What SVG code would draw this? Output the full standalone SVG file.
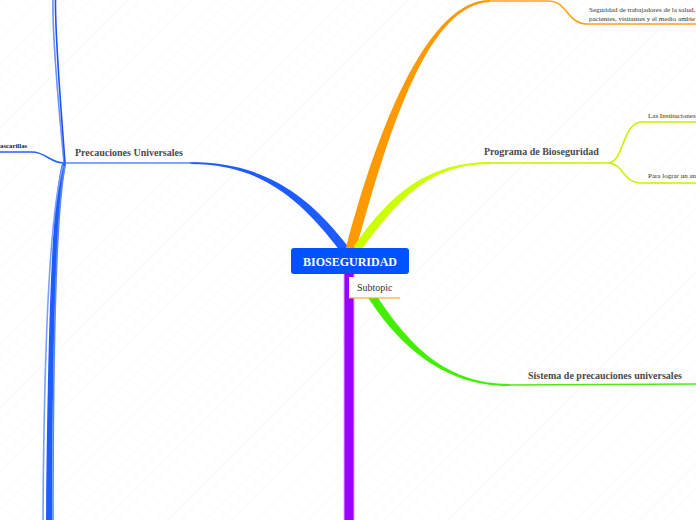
<svg xmlns="http://www.w3.org/2000/svg" width="696" height="520" viewBox="0 0 696 520">
<defs>
<pattern id="stripes" width="9" height="9" patternUnits="userSpaceOnUse" patternTransform="rotate(45)">
<line x1="0" y1="0" x2="0" y2="9" stroke="#f3f3f3" stroke-width="1"/>
</pattern>
<style>
.lbl{font-family:"Liberation Serif",serif;font-weight:bold;font-size:10px;fill:#4a4a4a}
.sm{font-family:"Liberation Serif",serif;font-size:7px;fill:#333}
.smb{font-family:"Liberation Serif",serif;font-weight:bold;font-size:6.8px;fill:#222}
.thin{fill:none;stroke-width:1.6;stroke-linecap:round}
</style>
</defs>
<rect width="696" height="520" fill="#ffffff"/>
<rect width="696" height="520" fill="url(#stripes)"/>
<g id="connectors">
<path d="M 348.6 247.3 C 303.6 187.3 255 162 190 162 L 190 164 C 255 164 296.4 192.7 341.4 252.7 Z" fill="#1f5cff"/>
<path d="M 192 163 L 64 163" class="thin" stroke="#5a86ff" stroke-width="2"/>
<path d="M 64 163 C 60 120 52 40 53 0" class="thin" stroke="#6b94ff" stroke-width="2"/>
<path d="M 65 163 C 62 120 55 40 55.5 0" class="thin" stroke="#1a55ee" stroke-width="1"/>
<path d="M 64 163 C 50 163 46 152 32 152 L 0 152" class="thin" stroke="#2a62ff" stroke-width="1.6"/>
<path d="M 62 164 C 52 200 48 320 46 520 L 52 520 C 53 320 56 210 66 164 Z" fill="#1f5cff"/>
<path d="M 63 166 C 50 210 44 350 43 520" class="thin" stroke="#7aa0ff" stroke-width="1.2"/>
<path d="M 65 166 C 56 210 53 350 53 520" class="thin" stroke="#5a86ff" stroke-width="1"/>
<path d="M 346 247.9 C 380 119 430 0 490 0 L 490 2 C 430 4 391 121 356 250.1 Z" fill="#ff9900"/>
<path d="M 488 1 L 548 1 C 568 1 566 24 588 24 L 696 24" class="thin" stroke="#ffa31a"/>
<path d="M 353.7 246.7 C 391 192 430 162 490 162 L 490 164 C 430 164 399 198 360.3 251.3 Z" fill="#ccff00"/>
<path d="M 488 163 L 608 163 C 624 163 622 122 642 122 L 696 122 M 608 163 C 624 163 622 183 642 183 L 696 183" class="thin" stroke="#ccf000"/>
<path d="M 371.4 287.8 C 404 338 440 384 510 384 L 510 386 C 440 386 396 342 364.6 292.2 Z" fill="#44ee00"/>
<path d="M 508 385 L 696 384" class="thin" stroke="#55e61a"/>
<rect x="343.5" y="270" width="11" height="250" fill="#d9a6ff"/>
<rect x="344.5" y="270" width="9" height="250" fill="#9900ff"/>
</g>
<g id="node-central">
<rect x="291" y="248" width="118" height="26" rx="3" fill="#0052ff"/>
<text x="350" y="266" text-anchor="middle" font-family="Liberation Serif, serif" font-weight="bold" font-size="12" fill="#ffffff">BIOSEGURIDAD</text>
</g>
<g id="node-subtopic">
<rect x="349" y="277" width="51" height="21" fill="#ffffff"/>
<line x1="349" y1="298" x2="400" y2="298" stroke="#ff9900" stroke-width="1.2"/>
<text x="357" y="290.5" font-family="Liberation Serif, serif" font-size="10" fill="#333">Subtopic</text>
</g>
<g id="node-precauciones">
<text class="lbl" x="75" y="156">Precauciones Universales</text>
</g>
<g id="node-mascarillas">
<text class="smb" x="0" y="147.5">ascarillas</text>
</g>
<g id="node-programa">
<text class="lbl" x="484" y="155">Programa de Bioseguridad</text>
</g>
<g id="node-instituciones">
<text class="sm" x="648" y="118">Las Instituciones</text>
</g>
<g id="node-lograr">
<text class="sm" x="648" y="178">Para lograr un an</text>
</g>
<g id="node-seguridad">
<text class="sm" x="589" y="11.5">Seguridad de trabajadores de la salud,</text>
<text class="sm" x="589" y="20.5">pacientes, visitantes y el medio ambie</text>
</g>
<g id="node-sistema">
<text class="lbl" x="528" y="379">Sistema de precauciones universales</text>
</g>
</svg>
